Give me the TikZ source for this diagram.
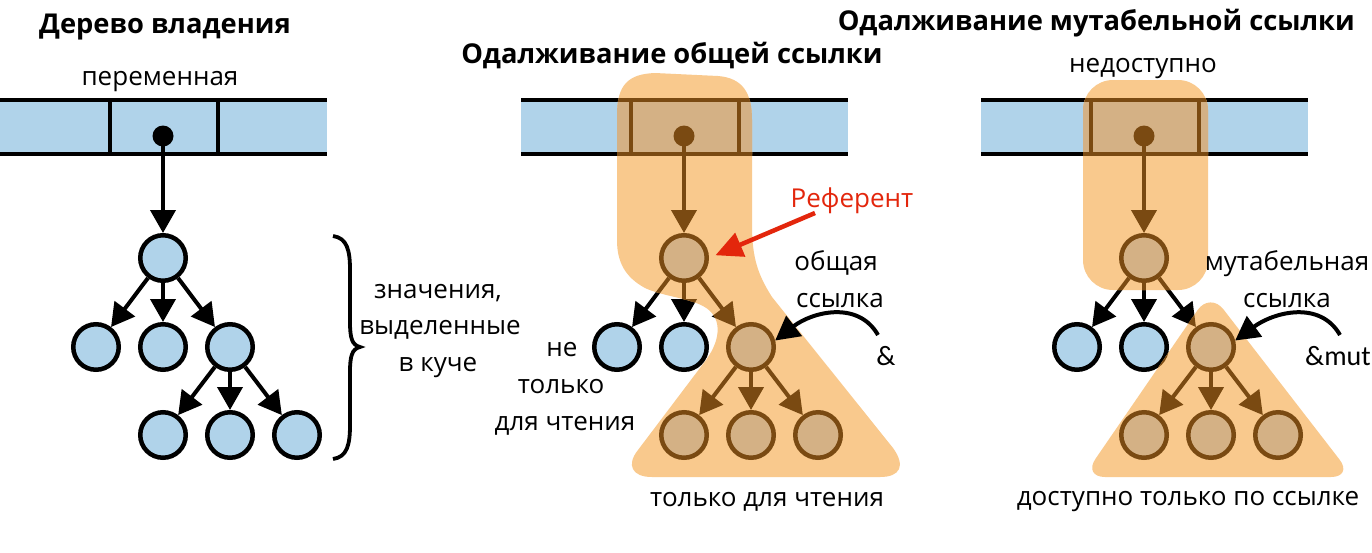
\documentclass[tikz,border=0pt]{standalone}
\usepackage{fontspec}
\setmainfont{Open Sans}
\newfontfamily\ampfont{Carlito}
\usetikzlibrary{arrows.meta}
\definecolor{cblue}{RGB}{176,211,234}
\definecolor{corange}{RGB}{249,201,141}
\definecolor{ctan}{RGB}{212,177,133}
\definecolor{cbrown}{RGB}{122,74,18}
\definecolor{cred}{RGB}{227,38,12}
\tikzset{
  barline/.style={line width=4.5pt},
  divline/.style={line width=3.8pt},
  treenode/.style={circle, line width=4.5pt, minimum size=45.5pt, inner sep=0pt},
  dotnode/.style={circle, minimum size=21pt, inner sep=0pt},
  treearr/.style={line width=4pt, -{Triangle[length=23pt,width=25pt]}},
  curvarr/.style={line width=4pt, -{Triangle[length=24pt,width=25pt]}},
  redarr/.style={cred, line width=4.5pt, -{Triangle[length=27pt,width=25pt]}},
  lbl/.style={font=\fontsize{26}{30}\selectfont, inner sep=0pt, anchor=base},
  ttl/.style={font=\bfseries\fontsize{27.3}{30}\selectfont, inner sep=0pt, anchor=base},
  midblob/.style={insert path={(617,115) .. controls (617,85) and (628,74) .. (655,73)
    -- (718,76) .. controls (742,78) and (752,92) .. (752,120)
    -- (752,225) .. controls (752,258) and (758,275) .. (772,297)
    -- (893,448) .. controls (906,466) and (900,477) .. (880,477)
    -- (652,477) .. controls (632,477) and (626,465) .. (638,450)
    -- (706,360) .. controls (722,338) and (722,316) .. (703,306)
    .. controls (688,298) and (662,296) .. (645,288)
    .. controls (625,277) and (617,262) .. (617,240) -- cycle}},
  rblobA/.style={rounded corners=30pt, insert path={(1083,80) rectangle (1208,290)}},
  rblobB/.style={rounded corners=22pt, insert path={(1210,292) -- (1083,477) -- (1353,477) -- cycle}},
}
\newcommand\treepanel[4]{%
  \begin{scope}[shift={(#1,0)}]
    \fill[#2] (-163,100) rectangle (164,154);
    \draw[#3,barline] (-163,100) -- (164,100) (-163,154) -- (164,154);
    \draw[#3,divline] (-53,100) -- (-53,154) (55,100) -- (55,154);
    \node[dotnode,fill=#3] (#4dot) at (0,136) {};
    \node[treenode,draw=#3,fill=#2] (#4r) at (0,258) {};
    \node[treenode,draw=#3,fill=#2] (#4a) at (-67,347) {};
    \node[treenode,draw=#3,fill=#2] (#4b) at (0,347) {};
    \node[treenode,draw=#3,fill=#2] (#4c) at (67,347) {};
    \node[treenode,draw=#3,fill=#2] (#4d) at (0,435) {};
    \node[treenode,draw=#3,fill=#2] (#4e) at (67,435) {};
    \node[treenode,draw=#3,fill=#2] (#4f) at (134,435) {};
    \draw[treearr,#3] (#4dot.center) -- (#4r);
    \draw[treearr,#3] (#4r) -- (#4a);
    \draw[treearr,#3] (#4r) -- (#4b);
    \draw[treearr,#3] (#4r) -- (#4c);
    \draw[treearr,#3] (#4c) -- (#4d);
    \draw[treearr,#3] (#4c) -- (#4e);
    \draw[treearr,#3] (#4c) -- (#4f);
  \end{scope}}
\begin{document}
\begin{tikzpicture}[x=1pt,y=-1pt]
\useasboundingbox (0,0) rectangle (1372,552);
\fill[white] (0,0) rectangle (1372,552);
% left panel
\treepanel{163}{cblue}{black}{l}
\draw[line width=3.8pt] (333,236) .. controls (347,238) and (350,250) .. (350,270)
  -- (350,322) .. controls (350,338) and (352,345) .. (360,347)
  .. controls (352,349) and (350,356) .. (350,372)
  -- (350,425) .. controls (350,445) and (347,457) .. (333,459);
% middle panel
\treepanel{684}{cblue}{black}{m}
\fill[corange, midblob];
\begin{scope}
  \clip[midblob];
  \treepanel{684}{ctan}{cbrown}{m}
\end{scope}
% right panel
\treepanel{1144}{cblue}{black}{r}
\fill[corange, rblobA];
\fill[corange, rblobB];
\begin{scope}
  \clip[rblobA];
  \treepanel{1144}{ctan}{cbrown}{r}
\end{scope}
\begin{scope}
  \clip[rblobB];
  \treepanel{1144}{ctan}{cbrown}{r}
\end{scope}
% titles
\node[ttl] (t1) at (165,33) {Дерево владения};
\node[ttl] (t2) at (672,63) {Одалживание общей ссылки};
\node[ttl, anchor=base east] (t3) at (1355,30) {Одалживание мутабельной ссылки};
% labels
\node[lbl] (var) at (160,85) {переменная};
\node[lbl] (na) at (1143,72) {недоступно};
\node[lbl] (h1) at (438,298) {значения,};
\node[lbl] (h2) at (440,334) {выделенные};
\node[lbl] (h3) at (438,371) {в куче};
\node[lbl] (n1) at (562,356) {не};
\node[lbl] (n2) at (561,393) {только};
\node[lbl] (n3) at (565,430) {для чтения};
\node[lbl] (ro) at (767,506) {только для чтения};
\node[lbl] (acc) at (1188,505) {доступно только по ссылке};
\node[lbl] (sh1) at (836,270) {общая};
\node[lbl] (sh2) at (840,307) {ссылка};
\node[lbl] (mu1) at (1287,270) {мутабельная};
\node[lbl] (mu2) at (1287,307) {ссылка};
\node[lbl, font=\ampfont\fontsize{28}{30}\selectfont] (amp) at (886,365) {\&};
\node[lbl, font=\ampfont\fontsize{28}{30}\selectfont] (ampm) at (1338,365) {\&mut};
\node[lbl, text=cred] (ref) at (852,207) {Референт};
% connectors
\coordinate (ampstart) at (878,335);
\coordinate (ampmstart) at (1340,335);
\coordinate (refstart) at (815,213);
\draw[curvarr] (ampstart) .. controls (858,300) and (812,312) .. (mc.15);
\draw[curvarr] (ampmstart) .. controls (1320,300) and (1274,312) .. (rc.15);
\draw[redarr, shorten >=7pt] (refstart) -- (mr.east);
\end{tikzpicture}
\end{document}
